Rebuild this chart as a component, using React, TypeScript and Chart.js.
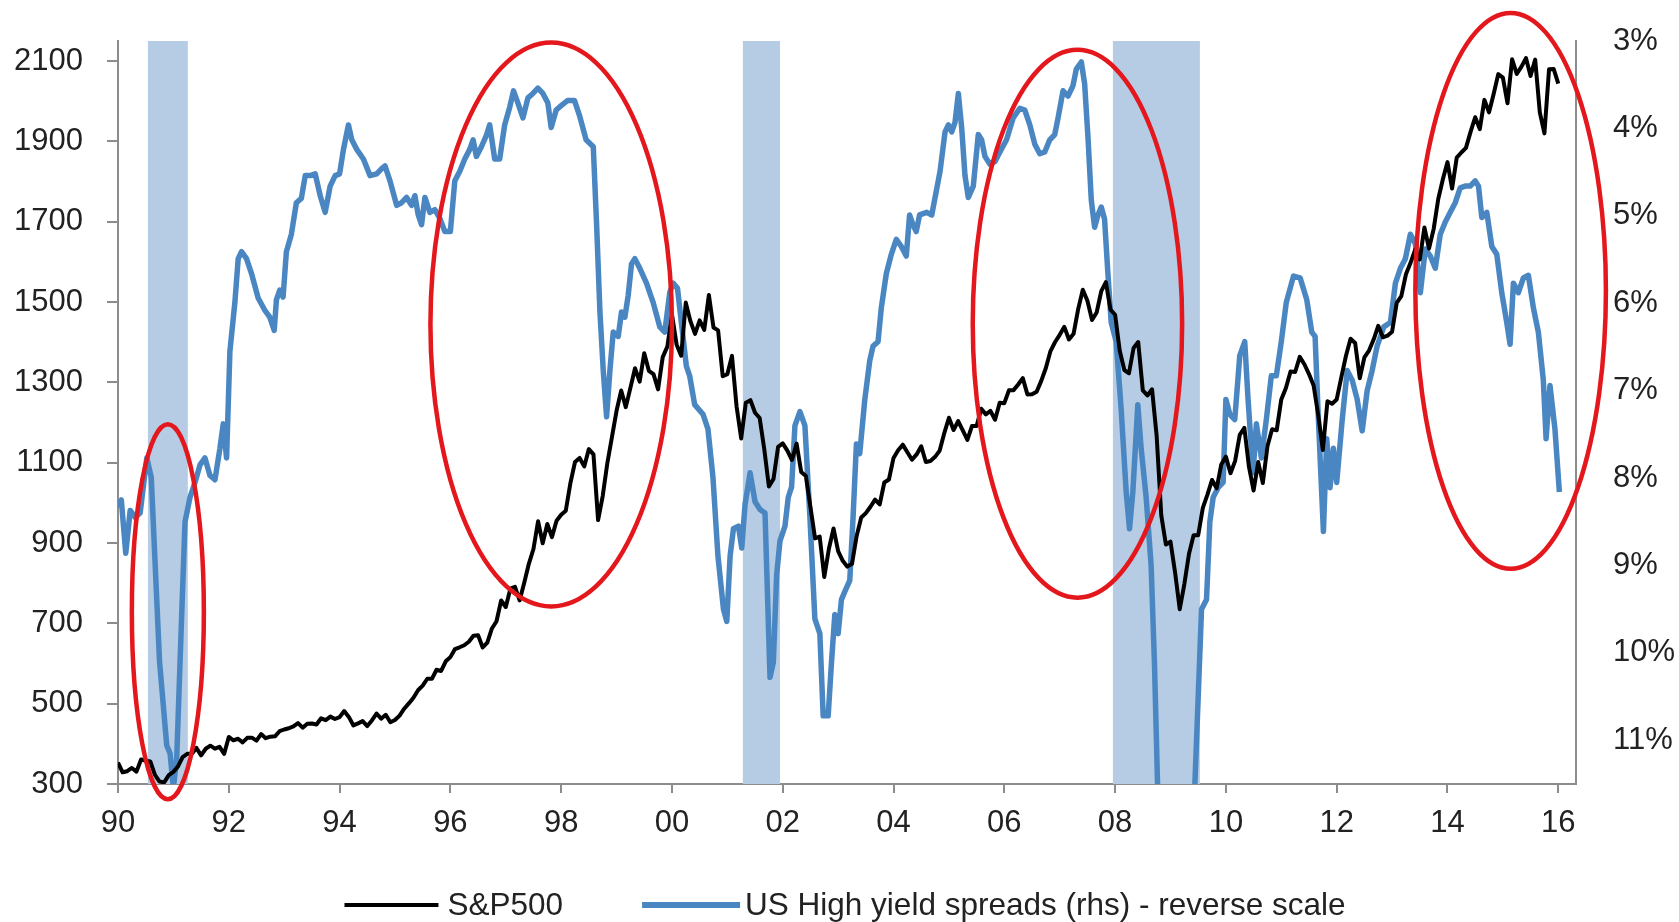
import React, { useEffect, useRef } from "react";
import { Chart, registerables } from "chart.js";

Chart.register(...registerables);

// ---------- DATA ----------
// S&P500 month-end closes, Dec 1989 .. Dec 2015 (plotted at month end)
const spxFirstYear = 1990;
const spxMonthly: number[] = [
  353.4,
  329.1, 331.9, 339.9, 330.8, 361.2, 358.0, 356.2, 322.6, 306.1, 304.0, 322.2, 330.2,
  343.9, 367.1, 375.2, 375.3, 389.8, 371.2, 387.8, 395.4, 387.9, 392.5, 375.2, 417.1,
  408.8, 412.7, 403.7, 414.9, 415.4, 408.1, 424.2, 414.0, 417.8, 418.7, 431.4, 435.7,
  438.8, 443.4, 451.7, 440.2, 450.2, 450.5, 448.1, 463.6, 458.9, 467.8, 461.8, 466.5,
  481.6, 467.1, 445.8, 450.9, 456.5, 444.3, 458.3, 475.5, 462.7, 472.4, 453.7, 459.3,
  470.4, 487.4, 500.7, 514.7, 533.4, 544.8, 562.1, 561.9, 584.4, 581.5, 605.4, 615.9,
  636.0, 640.4, 645.5, 654.2, 669.1, 670.6, 639.9, 652.0, 687.3, 705.3, 757.0, 740.7,
  786.2, 790.8, 757.1, 801.3, 848.3, 885.1, 954.3, 899.5, 947.3, 914.6, 955.4, 970.4,
  980.3, 1049.3, 1101.8, 1111.8, 1090.8, 1133.8, 1120.7, 957.3, 1017.0, 1098.7, 1163.6, 1229.2,
  1279.6, 1238.3, 1286.4, 1335.2, 1301.8, 1372.7, 1328.7, 1320.4, 1282.7, 1362.9, 1388.9, 1469.3,
  1394.5, 1366.4, 1498.6, 1452.4, 1420.6, 1454.6, 1430.8, 1517.7, 1436.5, 1429.4, 1315.2, 1320.3,
  1366.0, 1239.9, 1160.3, 1249.5, 1255.8, 1224.4, 1211.2, 1133.6, 1040.9, 1059.8, 1139.5, 1148.1,
  1130.2, 1106.7, 1147.4, 1076.9, 1067.1, 989.8, 911.6, 916.1, 815.3, 885.8, 936.3, 879.8,
  855.7, 841.2, 848.2, 916.9, 963.6, 974.5, 990.3, 1008.0, 996.0, 1050.7, 1058.2, 1111.9,
  1131.1, 1144.9, 1126.2, 1107.3, 1120.7, 1140.8, 1101.7, 1104.2, 1114.6, 1130.2, 1173.8, 1211.9,
  1181.3, 1203.6, 1180.6, 1156.9, 1191.5, 1191.3, 1234.2, 1220.3, 1228.8, 1207.0, 1249.5, 1248.3,
  1280.1, 1280.7, 1294.8, 1310.6, 1270.1, 1270.2, 1276.7, 1303.8, 1335.9, 1377.9, 1400.6, 1418.3,
  1438.2, 1406.8, 1420.9, 1482.4, 1530.6, 1503.4, 1455.3, 1474.0, 1527.0, 1549.4, 1481.1, 1468.4,
  1378.6, 1330.6, 1322.7, 1385.6, 1400.4, 1280.0, 1267.4, 1282.8, 1166.4, 968.8, 896.2, 903.3,
  825.9, 735.1, 797.9, 872.8, 919.1, 919.3, 987.5, 1020.6, 1057.1, 1036.2, 1095.6, 1115.1,
  1073.9, 1104.5, 1169.4, 1186.7, 1089.4, 1030.7, 1101.6, 1049.3, 1141.2, 1183.3, 1180.6, 1257.6,
  1286.1, 1327.2, 1325.8, 1363.6, 1345.2, 1320.6, 1292.3, 1218.9, 1131.4, 1253.3, 1247.0, 1257.6,
  1312.4, 1365.7, 1408.5, 1397.9, 1310.3, 1362.2, 1379.3, 1406.6, 1440.7, 1412.2, 1416.2, 1426.2,
  1498.1, 1514.7, 1569.2, 1597.6, 1630.7, 1606.3, 1685.7, 1633.0, 1681.6, 1756.5, 1805.8, 1848.4,
  1782.6, 1859.5, 1872.3, 1883.9, 1923.6, 1960.2, 1930.7, 2003.4, 1972.3, 2018.1, 2067.6, 2058.9,
  1995.0, 2104.5, 2067.9, 2085.5, 2107.4, 2063.1, 2103.8, 1972.2, 1920.0, 2079.4, 2080.4, 2043.9,
];

// US High yield spreads (%): [decimal year, spread]
const hySpreads: [number, number][] = [
  [1990.00, 8.33], [1990.06, 8.25], [1990.14, 8.86], [1990.22, 8.37], [1990.31, 8.45], [1990.40, 8.40],
  [1990.52, 7.77], [1990.60, 7.99], [1990.75, 10.1], [1990.88, 11.06], [1990.94, 11.15], [1991.00, 11.55],
  [1991.06, 11.2], [1991.15, 9.56], [1991.21, 8.50], [1991.30, 8.22], [1991.39, 8.05], [1991.48, 7.85],
  [1991.57, 7.77], [1991.66, 7.97], [1991.75, 8.02], [1991.84, 7.66], [1991.90, 7.38], [1991.96, 7.77],
  [1992.02, 6.55], [1992.11, 5.99], [1992.17, 5.49], [1992.23, 5.41], [1992.32, 5.49], [1992.41, 5.66],
  [1992.53, 5.94], [1992.65, 6.08], [1992.74, 6.16], [1992.82, 6.31], [1992.86, 5.96], [1992.92, 5.85],
  [1992.98, 5.93], [1993.04, 5.41], [1993.13, 5.21], [1993.22, 4.85], [1993.31, 4.80], [1993.38, 4.54],
  [1993.47, 4.54], [1993.56, 4.52], [1993.65, 4.77], [1993.74, 4.96], [1993.83, 4.66], [1993.92, 4.54],
  [1994.00, 4.52], [1994.07, 4.24], [1994.16, 3.96], [1994.22, 4.13], [1994.31, 4.24], [1994.43, 4.35],
  [1994.55, 4.54], [1994.67, 4.52], [1994.76, 4.46], [1994.82, 4.43], [1994.91, 4.60], [1995.03, 4.88],
  [1995.12, 4.85], [1995.21, 4.79], [1995.30, 4.88], [1995.36, 4.77], [1995.42, 4.99], [1995.48, 5.10],
  [1995.54, 4.79], [1995.63, 4.96], [1995.72, 4.93], [1995.81, 5.03], [1995.90, 5.18], [1996.00, 5.18],
  [1996.08, 4.60], [1996.17, 4.49], [1996.26, 4.35], [1996.35, 4.24], [1996.41, 4.13], [1996.47, 4.32],
  [1996.56, 4.21], [1996.65, 4.08], [1996.71, 3.96], [1996.80, 4.35], [1996.89, 4.35], [1996.98, 3.96],
  [1997.07, 3.76], [1997.14, 3.57], [1997.22, 3.71], [1997.31, 3.88], [1997.40, 3.65], [1997.49, 3.60],
  [1997.58, 3.54], [1997.67, 3.60], [1997.76, 3.71], [1997.82, 3.99], [1997.91, 3.79], [1998.00, 3.74],
  [1998.12, 3.68], [1998.24, 3.68], [1998.33, 3.85], [1998.45, 4.13], [1998.58, 4.21], [1998.64, 5.10],
  [1998.70, 6.10], [1998.76, 6.77], [1998.82, 7.30], [1998.88, 6.77], [1998.94, 6.33], [1999.03, 6.38],
  [1999.09, 6.10], [1999.15, 6.16], [1999.21, 5.91], [1999.27, 5.55], [1999.33, 5.49], [1999.42, 5.60],
  [1999.54, 5.77], [1999.66, 5.99], [1999.78, 6.27], [1999.87, 6.33], [1999.96, 5.88], [2000.02, 5.77],
  [2000.10, 5.83], [2000.17, 6.22], [2000.26, 6.72], [2000.32, 6.83], [2000.41, 7.16], [2000.56, 7.27],
  [2000.65, 7.44], [2000.74, 7.99], [2000.83, 8.89], [2000.93, 9.50], [2000.99, 9.64], [2001.05, 8.89],
  [2001.11, 8.58], [2001.20, 8.55], [2001.26, 8.80], [2001.32, 8.30], [2001.41, 7.94], [2001.50, 8.27],
  [2001.59, 8.36], [2001.68, 8.40], [2001.77, 10.28], [2001.83, 10.11], [2001.89, 9.11], [2001.95, 8.72],
  [2002.04, 8.55], [2002.10, 8.22], [2002.16, 8.10], [2002.22, 7.40], [2002.31, 7.24], [2002.40, 7.40],
  [2002.49, 8.44], [2002.58, 9.61], [2002.67, 9.78], [2002.73, 10.72], [2002.82, 10.72], [2002.88, 10.11],
  [2002.94, 9.56], [2003.00, 9.78], [2003.06, 9.39], [2003.12, 9.30], [2003.21, 9.17], [2003.27, 8.44],
  [2003.33, 7.61], [2003.39, 7.72], [2003.48, 7.11], [2003.57, 6.66], [2003.63, 6.49], [2003.72, 6.44],
  [2003.78, 6.05], [2003.87, 5.66], [2003.96, 5.44], [2004.05, 5.27], [2004.14, 5.35], [2004.23, 5.46],
  [2004.29, 4.99], [2004.35, 5.10], [2004.41, 5.18], [2004.47, 4.99], [2004.60, 4.96], [2004.69, 4.99],
  [2004.75, 4.79], [2004.84, 4.49], [2004.93, 4.04], [2004.99, 3.96], [2005.05, 4.04], [2005.11, 3.93],
  [2005.17, 3.60], [2005.23, 3.99], [2005.29, 4.54], [2005.35, 4.79], [2005.44, 4.66], [2005.53, 4.07],
  [2005.59, 4.13], [2005.65, 4.32], [2005.74, 4.41], [2005.83, 4.38], [2005.92, 4.27], [2006.04, 4.13],
  [2006.16, 3.88], [2006.28, 3.77], [2006.37, 3.79], [2006.46, 3.96], [2006.55, 4.18], [2006.64, 4.29],
  [2006.73, 4.27], [2006.82, 4.13], [2006.91, 4.07], [2006.97, 3.88], [2007.06, 3.57], [2007.15, 3.63],
  [2007.24, 3.51], [2007.30, 3.32], [2007.39, 3.24], [2007.45, 3.49], [2007.51, 4.10], [2007.57, 4.82],
  [2007.63, 5.13], [2007.69, 4.99], [2007.75, 4.90], [2007.81, 5.04], [2007.87, 5.66], [2007.93, 6.22],
  [2008.02, 6.44], [2008.11, 7.22], [2008.20, 8.16], [2008.26, 8.58], [2008.32, 8.16], [2008.41, 7.16],
  [2008.47, 7.66], [2008.56, 8.22], [2008.65, 9.00], [2008.71, 10.11], [2008.77, 11.6], [2008.85, 14.0],
  [2008.95, 18.0], [2009.05, 20.0], [2009.15, 18.5], [2009.25, 16.0], [2009.35, 13.5], [2009.44, 11.5],
  [2009.56, 9.50], [2009.65, 9.39], [2009.71, 8.50], [2009.77, 8.22], [2009.86, 8.11], [2009.95, 8.05],
  [2010.00, 7.10], [2010.07, 7.27], [2010.16, 7.33], [2010.25, 6.60], [2010.34, 6.44], [2010.40, 7.10],
  [2010.49, 7.94], [2010.55, 7.38], [2010.64, 7.77], [2010.73, 7.33], [2010.82, 6.83], [2010.91, 6.83],
  [2011.00, 6.44], [2011.09, 5.99], [2011.22, 5.69], [2011.34, 5.71], [2011.46, 5.96], [2011.55, 6.33],
  [2011.61, 6.38], [2011.67, 7.33], [2011.76, 8.61], [2011.82, 7.55], [2011.88, 8.11], [2011.94, 7.66],
  [2012.00, 8.05], [2012.10, 7.33], [2012.19, 6.77], [2012.28, 6.88], [2012.37, 7.10], [2012.46, 7.46],
  [2012.55, 7.00], [2012.64, 6.77], [2012.73, 6.49], [2012.85, 6.27], [2012.97, 6.22], [2013.06, 5.77],
  [2013.15, 5.60], [2013.24, 5.49], [2013.33, 5.21], [2013.42, 5.32], [2013.51, 5.88], [2013.60, 5.38],
  [2013.69, 5.46], [2013.78, 5.60], [2013.87, 5.21], [2013.96, 5.07], [2014.05, 4.96], [2014.14, 4.85],
  [2014.23, 4.68], [2014.32, 4.66], [2014.41, 4.66], [2014.50, 4.60], [2014.56, 4.66], [2014.62, 5.02],
  [2014.71, 4.96], [2014.80, 5.35], [2014.89, 5.44], [2014.98, 5.88], [2015.07, 6.22], [2015.13, 6.47],
  [2015.19, 5.77], [2015.28, 5.88], [2015.37, 5.71], [2015.46, 5.68], [2015.55, 6.05], [2015.64, 6.33],
  [2015.73, 6.88], [2015.78, 7.55], [2015.85, 6.94], [2015.94, 7.44], [2016.02, 8.16],
];

const leftTicks = [300, 500, 700, 900, 1100, 1300, 1500, 1700, 1900, 2100];
const rightTicks = [3, 4, 5, 6, 7, 8, 9, 10, 11];
const xTicks = [1990, 1992, 1994, 1996, 1998, 2000, 2002, 2004, 2006, 2008, 2010, 2012, 2014, 2016];

// recession periods (decimal years)
const recessionStarts = [1990.54, 2001.28, 2007.96];
const recessionEnds = [1991.26, 2001.95, 2009.53];

// highlighted ellipses: centre (year, S&P level) and half-extents
const ellipseYears = [1990.9, 1997.82, 2007.32, 2015.14];
const ellipseLevels = [729, 1444, 1446, 1528];
const ellipseHalfYears = [0.65, 2.18, 1.89, 1.72];
const ellipseHalfLevels = [467, 702, 682, 692];

const seriesNames = ["S&P500", "US High yield spreads (rhs) - reverse scale"];

// ---------- STYLE ----------
const FONT = "'Liberation Sans', Arial, Helvetica, sans-serif";
const BLACK = "#000000";
const BLUE = "#4a87c2";
const SHADE = "#b5cce4";
const RED = "#e4171c";
const AXIS = "#8c8c8c";
const TEXT = "#222222";
const TICK_SIZE = 31;

const overlayPlugin = {
  id: "overlay",
  beforeDatasetsDraw(chart: any) {
    const { ctx, chartArea, scales } = chart;
    const x = scales.x;
    ctx.save();
    ctx.fillStyle = SHADE;
    recessionStarts.forEach((s, i) => {
      const x0 = x.getPixelForValue(s);
      const x1 = x.getPixelForValue(recessionEnds[i]);
      ctx.fillRect(x0, chartArea.top, x1 - x0, chartArea.bottom - chartArea.top);
    });
    ctx.restore();
  },
  afterDraw(chart: any) {
    const { ctx, scales } = chart;
    const x = scales.x;
    const y = scales.y;
    ctx.save();
    ctx.strokeStyle = RED;
    ctx.lineWidth = 4.5;
    ellipseYears.forEach((yr, i) => {
      const cx = x.getPixelForValue(yr);
      const cy = y.getPixelForValue(ellipseLevels[i]);
      const rx = Math.abs(x.getPixelForValue(yr + ellipseHalfYears[i]) - cx);
      const ry = Math.abs(y.getPixelForValue(ellipseLevels[i] - ellipseHalfLevels[i]) - cy);
      ctx.beginPath();
      ctx.ellipse(cx, cy, rx, ry, 0, 0, Math.PI * 2);
      ctx.stroke();
    });

    // legend
    ctx.font = `31.5px ${FONT}`;
    ctx.textBaseline = "middle";
    ctx.textAlign = "left";
    const lineLens = [94, 98];
    const gaps = [9, 5];
    const spacing = 79;
    const colors = [BLACK, BLUE];
    const widths = [4, 6];
    const textW = seriesNames.map((t) => ctx.measureText(t).width);
    const total = lineLens[0] + gaps[0] + textW[0] + spacing + lineLens[1] + gaps[1] + textW[1];
    let cx = 845 - total / 2;
    const ly = 905;
    for (let i = 0; i < 2; i++) {
      ctx.strokeStyle = colors[i];
      ctx.lineWidth = widths[i];
      ctx.beginPath();
      ctx.moveTo(cx, ly);
      ctx.lineTo(cx + lineLens[i], ly);
      ctx.stroke();
      cx += lineLens[i] + gaps[i];
      ctx.fillStyle = TEXT;
      ctx.fillText(seriesNames[i], cx, ly + 1);
      cx += textW[i] + spacing;
    }
    ctx.restore();
  },
};

export default function App() {
  const canvasRef = useRef<HTMLCanvasElement | null>(null);

  useEffect(() => {
    const canvas = canvasRef.current;
    if (!canvas) return;
    const spxPoints = spxMonthly.map((v, i) => ({ x: spxFirstYear + i / 12, y: v }));
    const hyPoints = hySpreads.map(([yr, v]) => ({ x: yr, y: v }));

    const chart = new Chart(canvas, {
      type: "line",
      data: {
        datasets: [
          {
            label: seriesNames[0],
            data: spxPoints,
            borderColor: BLACK,
            borderWidth: 4,
            pointRadius: 0,
            tension: 0,
            yAxisID: "y",
            borderJoinStyle: "round",
          },
          {
            label: seriesNames[1],
            data: hyPoints,
            borderColor: BLUE,
            borderWidth: 5.5,
            pointRadius: 0,
            tension: 0,
            yAxisID: "y1",
            borderJoinStyle: "round",
          },
        ],
      },
      options: {
        animation: false,
        responsive: false,
        maintainAspectRatio: false,
        devicePixelRatio: 1,
        layout: { padding: { top: 41, left: 0, right: 0, bottom: 0 } },
        plugins: {
          legend: { display: false },
          tooltip: { enabled: false },
        },
        scales: {
          x: {
            type: "linear",
            min: 1990,
            max: 2016.32,
            afterBuildTicks: (s: any) => {
              s.ticks = xTicks.map((v) => ({ value: v }));
            },
            afterFit: (s: any) => {
              s.height = 138;
            },
            ticks: {
              autoSkip: false,
              maxRotation: 0,
              padding: 12,
              color: TEXT,
              font: { family: FONT, size: TICK_SIZE },
              callback: (v: any) => String(Math.round(Number(v)) % 100).padStart(2, "0"),
            },
            grid: { drawOnChartArea: false, drawTicks: true, tickLength: 9, color: AXIS, lineWidth: 2 },
            border: { display: true, color: AXIS, width: 2 },
          },
          y: {
            type: "linear",
            position: "left",
            min: 300,
            max: 2150,
            afterBuildTicks: (s: any) => {
              s.ticks = leftTicks.map((v) => ({ value: v }));
            },
            afterFit: (s: any) => {
              s.width = 118;
            },
            ticks: {
              padding: 24,
              color: TEXT,
              font: { family: FONT, size: TICK_SIZE, lineHeight: 1 },
              callback: (v: any) => String(v),
            },
            grid: { drawOnChartArea: false, drawTicks: true, tickLength: 11, color: AXIS, lineWidth: 2 },
            border: { display: true, color: AXIS, width: 2 },
          },
          y1: {
            type: "linear",
            position: "right",
            min: 3,
            max: 11.5,
            reverse: true,
            afterBuildTicks: (s: any) => {
              s.ticks = rightTicks.map((v) => ({ value: v }));
            },
            afterFit: (s: any) => {
              s.width = 103;
            },
            ticks: {
              padding: 0,
              color: TEXT,
              font: { family: FONT, size: TICK_SIZE, lineHeight: 1 },
              callback: (v: any) => `${v}%`,
            },
            grid: { display: false, drawOnChartArea: false, drawTicks: true, tickLength: 37 },
            border: { display: true, color: AXIS, width: 2 },
          },
        },
      },
      plugins: [overlayPlugin],
    });
    return () => chart.destroy();
  }, []);

  return (
    <div style={{ position: "fixed", left: 0, top: 0, width: 1679, height: 922, background: "#fff" }}>
      <canvas ref={canvasRef} width={1679} height={922} style={{ display: "block" }} />
    </div>
  );
}
